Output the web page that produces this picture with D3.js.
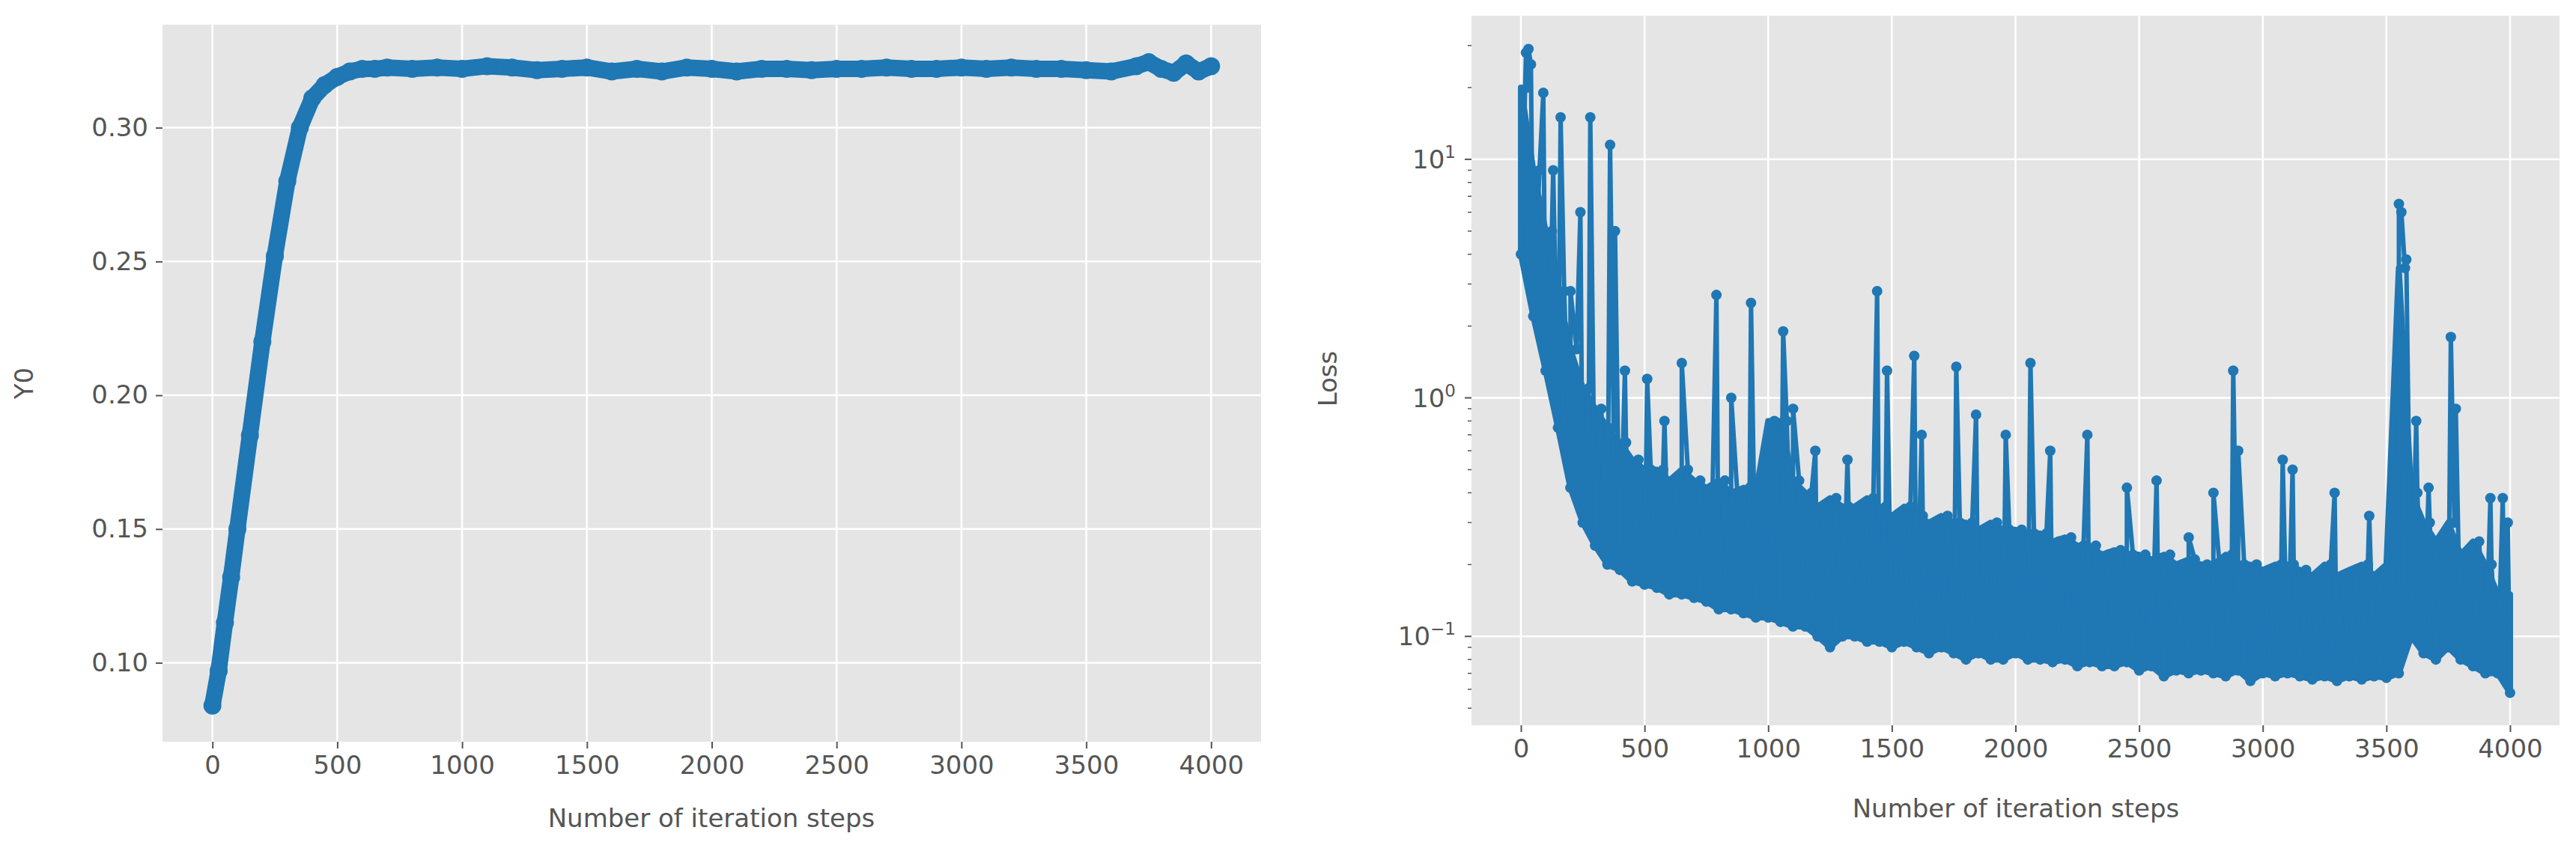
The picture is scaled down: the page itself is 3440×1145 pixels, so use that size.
<!DOCTYPE html>
<html><head><meta charset="utf-8">
<script src="https://cdn.jsdelivr.net/npm/d3@7"></script>
<style>body{margin:0;background:#fff}text{font-family:"DejaVu Sans",sans-serif;fill:#555}</style>
</head><body><svg id="c" width="3440" height="1145"></svg>
<script>
// Y0 curve
var y0Steps = [0,25,50,75,100,150,200,250,300,350,400,450,500,550,600,650,700,800,900,1000,1100,1200,1300,1400,1500,1600,1700,1800,1900,2000,2100,2200,2300,2400,2500,2600,2700,2800,2900,3000,3100,3200,3300,3400,3500,3600,3700,3750,3800,3850,3900,3950,4000];
var y0Vals  = [0.084,0.097,0.115,0.132,0.150,0.185,0.220,0.252,0.280,0.300,0.311,0.316,0.319,0.321,0.322,0.322,0.3225,0.322,0.3225,0.322,0.323,0.3225,0.3215,0.322,0.3225,0.321,0.322,0.321,0.3225,0.322,0.321,0.322,0.322,0.3215,0.322,0.322,0.3225,0.322,0.322,0.3225,0.322,0.3225,0.322,0.322,0.3215,0.321,0.323,0.3245,0.322,0.3205,0.324,0.321,0.323];
var y0Ticks = [0.10,0.15,0.20,0.25,0.30];
var xTicks = [0,500,1000,1500,2000,2500,3000,3500,4000];

// loss: lower edge of the dense band (every 50 steps), upper edge (offset 25), spikes
var lossLow = [4.0,2.2,1.3,0.75,0.42,0.3,0.24,0.2,0.19,0.17,0.165,0.16,0.15,0.15,0.145,0.14,0.13,0.13,0.125,0.12,0.12,0.115,0.11,0.11,0.1,0.09,0.1,0.1,0.095,0.095,0.09,0.095,0.09,0.085,0.09,0.085,0.08,0.085,0.08,0.08,0.085,0.08,0.08,0.078,0.08,0.075,0.078,0.075,0.075,0.078,0.072,0.075,0.068,0.072,0.07,0.072,0.07,0.068,0.072,0.065,0.07,0.068,0.07,0.068,0.066,0.068,0.065,0.068,0.066,0.068,0.067,0.07,0.1,0.085,0.08,0.09,0.08,0.075,0.07,0.07,0.058];
var lossHigh = [20,9,5,2.8,1.6,1.1,0.9,0.75,0.65,0.55,0.5,0.5,0.45,0.5,0.45,0.42,0.45,0.4,0.42,0.4,0.8,0.8,0.45,0.4,0.35,0.38,0.35,0.35,0.38,0.35,0.32,0.35,0.32,0.3,0.32,0.3,0.3,0.28,0.3,0.28,0.28,0.27,0.27,0.25,0.26,0.24,0.24,0.22,0.23,0.22,0.22,0.21,0.22,0.2,0.21,0.2,0.2,0.22,0.2,0.2,0.19,0.2,0.2,0.19,0.18,0.2,0.18,0.19,0.2,0.18,0.2,3.5,0.4,0.3,0.25,0.3,0.22,0.25,0.2,0.15];
var spikeSteps = [20,30,40,90,130,160,200,240,280,360,380,420,510,580,650,790,850,930,1060,1100,1190,1320,1440,1480,1590,1620,1760,1840,1960,2060,2140,2290,2450,2570,2700,2800,2880,2900,3080,3120,3290,3430,3550,3560,3580,3620,3670,3760,3780,3920,3970,3990];
var spikeVals  = [28,29,25,19,9,15,2.8,6,15,11.5,5,1.3,1.2,0.8,1.4,2.7,1.0,2.5,1.9,0.9,0.6,0.55,2.8,1.3,1.5,0.7,1.35,0.85,0.7,1.4,0.6,0.7,0.42,0.45,0.26,0.4,1.3,0.6,0.55,0.5,0.4,0.32,6.5,6,3.8,0.8,0.42,1.8,0.9,0.38,0.38,0.3];

var blue = "#1f77b4";
var svg = d3.select("#c");

function frame(x, y, xt) {
  var g = svg.append("g");
  var x0 = x.range()[0], x1 = x.range()[1], yb = y.range()[0], yt = y.range()[1];
  g.append("rect").attr("x", x0).attr("y", yt).attr("width", x1 - x0).attr("height", yb - yt).attr("fill", "#e5e5e5");
  g.selectAll(".gx").data(xt).enter().append("line")
    .attr("x1", x).attr("x2", x).attr("y1", yt).attr("y2", yb).attr("stroke", "#fff").attr("stroke-width", 2.5);
  var xa = g.append("g").attr("transform", "translate(0," + yb + ")")
    .call(d3.axisBottom(x).tickValues(xt).tickFormat(d3.format("d")).tickSize(9).tickPadding(10));
  xa.select(".domain").remove();
  xa.selectAll("line").attr("stroke", "#555").attr("stroke-width", 2);
  xa.selectAll("text").attr("font-size", 34).attr("fill", "#555");
  return g;
}

// ---- left panel
var xL = d3.scaleLinear().domain([-200, 4200]).range([217, 1684]);
var yL = d3.scaleLinear().domain([0.0705, 0.3385]).range([991, 33]);
var gL = frame(xL, yL, xTicks);
gL.selectAll(".gy").data(y0Ticks).enter().append("line")
  .attr("x1", 217).attr("x2", 1684).attr("y1", yL).attr("y2", yL).attr("stroke", "#fff").attr("stroke-width", 2.5);
var ya = gL.append("g").attr("transform", "translate(217,0)")
  .call(d3.axisLeft(yL).tickValues(y0Ticks).tickFormat(d3.format(".2f")).tickSize(9).tickPadding(10));
ya.select(".domain").remove();
ya.selectAll("line").attr("stroke", "#555").attr("stroke-width", 2);
ya.selectAll("text").attr("font-size", 34).attr("fill", "#555");
var y0Data = y0Steps.map(function(s, i) { return [s, y0Vals[i]]; });
gL.append("path").datum(y0Data).attr("fill", "none").attr("stroke", blue).attr("stroke-width", 22)
  .attr("stroke-linejoin", "round").attr("stroke-linecap", "round")
  .attr("d", d3.line().x(function(d) { return xL(d[0]); }).y(function(d) { return yL(d[1]); }));
gL.selectAll(".p").data(y0Data).enter().append("circle")
  .attr("cx", function(d) { return xL(d[0]); }).attr("cy", function(d) { return yL(d[1]); }).attr("r", 12).attr("fill", blue);
svg.append("text").attr("transform", "translate(44,512) rotate(-90)").attr("text-anchor", "middle").attr("font-size", 34).text("Y0");
svg.append("text").attr("x", 950).attr("y", 1105).attr("text-anchor", "middle").attr("font-size", 34).text("Number of iteration steps");

// ---- right panel
var xR = d3.scaleLinear().domain([-200, 4200]).range([1965, 3418]);
var yR = d3.scaleLog().domain([0.0424, 40]).range([969, 21]);
var gR = frame(xR, yR, xTicks);
var decades = [0.1, 1, 10];
gR.selectAll(".gy").data(decades).enter().append("line")
  .attr("x1", 1965).attr("x2", 3418).attr("y1", yR).attr("y2", yR).attr("stroke", "#fff").attr("stroke-width", 2.5);
var minor = [];
[0.01, 0.1, 1, 10].forEach(function(b) { for (var k = 2; k <= 9; k++) { var v = b * k; if (v > 0.0424 && v < 40) minor.push(v); } });
gR.selectAll(".mt").data(minor).enter().append("line")
  .attr("x1", 1960).attr("x2", 1965).attr("y1", yR).attr("y2", yR).attr("stroke", "#555").attr("stroke-width", 1.5);
gR.selectAll(".Mt").data(decades).enter().append("line")
  .attr("x1", 1956).attr("x2", 1965).attr("y1", yR).attr("y2", yR).attr("stroke", "#555").attr("stroke-width", 2);
var lab = gR.selectAll(".yl").data(decades).enter().append("text")
  .attr("x", 1944).attr("y", function(d) { return yR(d) + 12; }).attr("text-anchor", "end").attr("font-size", 34);
lab.append("tspan").text("10");
lab.append("tspan").attr("dy", -14).attr("font-size", 23).text(function(d) { return d === 0.1 ? "\u22121" : d === 1 ? "0" : "1"; });

// dense band between the two envelopes
var bandData = lossLow.map(function(v, i) { return [i * 50, v, lossHigh[Math.min(i, lossHigh.length - 1)]]; });
gR.append("path").datum(bandData).attr("fill", blue).attr("stroke", blue).attr("stroke-width", 8)
  .attr("stroke-linejoin", "round")
  .attr("d", d3.area().x(function(d) { return xR(d[0]); })
    .y0(function(d) { return yR(d[1]); }).y1(function(d) { return yR(d[2]); }));

var lossData = [];
lossLow.forEach(function(v, i) { lossData.push([i * 50, v]); });
lossHigh.forEach(function(v, i) { lossData.push([i * 50 + 25, v]); });
spikeSteps.forEach(function(s, i) { lossData.push([s + 0.5, spikeVals[i]]); });
lossData.sort(function(a, b) { return a[0] - b[0]; });
gR.append("path").datum(lossData).attr("fill", "none").attr("stroke", blue).attr("stroke-width", 6)
  .attr("stroke-linejoin", "round")
  .attr("d", d3.line().x(function(d) { return xR(d[0]); }).y(function(d) { return yR(d[1]); }));
gR.selectAll(".p").data(lossData).enter().append("circle")
  .attr("cx", function(d) { return xR(d[0]); }).attr("cy", function(d) { return yR(d[1]); }).attr("r", 7).attr("fill", blue);
svg.append("text").attr("transform", "translate(1785,506) rotate(-90)").attr("text-anchor", "middle").attr("font-size", 34).text("Loss");
svg.append("text").attr("x", 2692).attr("y", 1092).attr("text-anchor", "middle").attr("font-size", 34).text("Number of iteration steps");
</script></body></html>
